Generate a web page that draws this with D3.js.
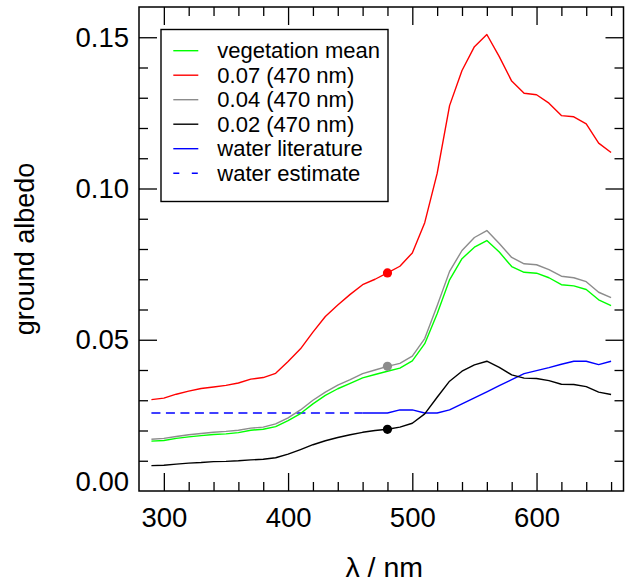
<!DOCTYPE html>
<html>
<head>
<meta charset="utf-8">
<script src="https://cdn.jsdelivr.net/npm/d3@7/dist/d3.min.js"></script>
<style>
  html, body { margin: 0; padding: 0; background: #fff; }
  svg { display: block; font-family: "Liberation Sans", Arial, Helvetica, sans-serif; }
</style>
</head>
<body>
<svg id="chart" width="632" height="585"></svg>
<script>
// Wavelength grid (nm) shared by the vegetation spectra
const wavelengths = [290,300,310,320,330,340,350,360,370,380,390,400,410,420,430,440,450,460,470,480,
                     490,500,510,520,530,540,550,560,570,580,590,600,610,620,630,640,650,660];

// Mean vegetation ground albedo
const vegetationMean = [0.0165,0.0167,0.0174,0.0179,0.0183,0.0187,0.0189,0.0193,0.0201,0.0204,0.0213,0.0233,
                        0.0256,0.0288,0.0316,0.0338,0.0356,0.0374,0.0385,0.0396,0.0406,0.0430,0.0487,0.0586,
                        0.0698,0.0768,0.0806,0.0828,0.0790,0.0742,0.0723,0.0720,0.0705,0.0682,0.0678,0.0666,
                        0.0632,0.0613];

// Vegetation spectra scaled to a given albedo at 470 nm
const albedo007 = [0.0302,0.0307,0.0320,0.0330,0.0339,0.0344,0.0349,0.0357,0.0370,0.0375,0.0389,0.0428,
                   0.0470,0.0525,0.0577,0.0615,0.0650,0.0682,0.0700,0.0721,0.0743,0.0787,0.0887,0.1050,
                   0.1274,0.1390,0.1469,0.1509,0.1436,0.1355,0.1315,0.1310,0.1282,0.1241,0.1237,0.1214,
                   0.1150,0.1119];
const albedo004 = [0.0171,0.0174,0.0180,0.0186,0.0190,0.0194,0.0197,0.0201,0.0208,0.0211,0.0222,0.0242,
                   0.0268,0.0300,0.0327,0.0350,0.0368,0.0388,0.0400,0.0412,0.0422,0.0446,0.0504,0.0612,
                   0.0726,0.0795,0.0838,0.0861,0.0818,0.0772,0.0751,0.0748,0.0732,0.0710,0.0705,0.0692,
                   0.0657,0.0639];
const albedo002 = [0.0084,0.0085,0.0089,0.0092,0.0094,0.0097,0.0098,0.0100,0.0103,0.0105,0.0110,0.0122,
                   0.0137,0.0153,0.0166,0.0177,0.0186,0.0194,0.0200,0.0204,0.0211,0.0224,0.0255,0.0310,
                   0.0363,0.0396,0.0417,0.0429,0.0409,0.0384,0.0373,0.0372,0.0365,0.0353,0.0352,0.0345,
                   0.0327,0.0319];

// Water albedo from the literature
const waterLitWavelengths = [460,470,480,490,500,510,520,530,540,550,560,570,580,590,600,610,620,630,640,650,660];
const waterLiterature = [0.0258,0.0258,0.0258,0.0268,0.0268,0.0258,0.0258,0.0268,0.0288,0.0308,0.0328,
                         0.0348,0.0368,0.0388,0.0398,0.0408,0.0419,0.0429,0.0429,0.0418,0.0429];

// Estimated (constant) water albedo in the UV/blue
const waterEstWavelengths = [290,460];
const waterEstimate = [0.0258,0.0258];

// Wavelength at which the scaled spectra are marked
const markerWavelength = 480;

// Axis ticks
const xMajorTicks = [300,400,500,600];
const xMinorTicks = [320,340,360,380,420,440,460,480,520,540,560,580,620,640,660];
const yMajorTicks = [0.00,0.05,0.10,0.15];
const yMinorTicks = [0.01,0.02,0.03,0.04,0.06,0.07,0.08,0.09,0.11,0.12,0.13,0.14];

const legendLabels = ["vegetation mean","0.07 (470 nm)","0.04 (470 nm)","0.02 (470 nm)","water literature","water estimate"];

// ---------------------------------------------------------------
const svg = d3.select("#chart");
const plotLeft = 139, plotRight = 623.5, plotTop = 7, plotBottom = 491;

const x = d3.scaleLinear().domain([280, 670]).range([plotLeft, plotRight]);
const y = d3.scaleLinear().domain([0, 0.16]).range([plotBottom, plotTop]);

const series = [
  { name: legendLabels[0], xs: wavelengths, ys: vegetationMean, color: "#00ff00", dash: null },
  { name: legendLabels[1], xs: wavelengths, ys: albedo007, color: "#ff0000", dash: null, marker: true },
  { name: legendLabels[2], xs: wavelengths, ys: albedo004, color: "#8c8c8c", dash: null, marker: true },
  { name: legendLabels[3], xs: wavelengths, ys: albedo002, color: "#000000", dash: null, marker: true },
  { name: legendLabels[4], xs: waterLitWavelengths, ys: waterLiterature, color: "#0000ff", dash: null },
  { name: legendLabels[5], xs: waterEstWavelengths, ys: waterEstimate, color: "#0000ff", dash: "9,5.5" }
];

const line = d3.line().x(d => x(d[0])).y(d => y(d[1]));

// curves
const drawOrder = [4, 5, 0, 2, 3, 1];
drawOrder.forEach(i => {
  const s = series[i];
  svg.append("path")
    .datum(s.xs.map((w, k) => [w, s.ys[k]]))
    .attr("d", line)
    .attr("fill", "none")
    .attr("stroke", s.color)
    .attr("stroke-width", 1.4)
    .attr("stroke-dasharray", s.dash)
    .attr("stroke-linejoin", "round");
});

// markers on the scaled spectra
series.filter(s => s.marker).forEach(s => {
  const k = s.xs.indexOf(markerWavelength);
  svg.append("circle")
    .attr("cx", x(markerWavelength))
    .attr("cy", y(s.ys[k]))
    .attr("r", 4.6)
    .attr("fill", s.color);
});

// inward ticks on all four sides
function ticks(axisFn, scale, values, size, transform) {
  const g = svg.append("g").attr("transform", transform)
    .call(axisFn(scale).tickValues(values).tickSize(size).tickFormat(""));
  g.select(".domain").remove();
  g.selectAll(".tick line").attr("stroke", "#000").attr("stroke-width", 1.3);
}
ticks(d3.axisBottom, x, xMajorTicks, -18, `translate(0,${plotBottom})`);
ticks(d3.axisBottom, x, xMinorTicks, -9, `translate(0,${plotBottom})`);
ticks(d3.axisTop, x, xMajorTicks, -18, `translate(0,${plotTop})`);
ticks(d3.axisTop, x, xMinorTicks, -9, `translate(0,${plotTop})`);
ticks(d3.axisLeft, y, yMajorTicks.filter(v => v > 0), -18, `translate(${plotLeft},0)`);
ticks(d3.axisLeft, y, yMinorTicks, -9, `translate(${plotLeft},0)`);
ticks(d3.axisRight, y, yMajorTicks.filter(v => v > 0), -18, `translate(${plotRight},0)`);
ticks(d3.axisRight, y, yMinorTicks, -9, `translate(${plotRight},0)`);

// tick labels
const tickFont = 27.5;
const xLab = svg.append("g").attr("transform", `translate(0,${plotBottom})`)
  .call(d3.axisBottom(x).tickValues(xMajorTicks).tickSize(0).tickPadding(16.5).tickFormat(d3.format("d")));
xLab.select(".domain").remove();
xLab.selectAll("text").attr("font-size", tickFont).attr("fill", "#000")
  .attr("font-family", "Liberation Sans, Arial, sans-serif");

const yLab = svg.append("g").attr("transform", `translate(${plotLeft},0)`)
  .call(d3.axisLeft(y).tickValues(yMajorTicks).tickSize(0).tickPadding(10).tickFormat(d3.format(".2f")));
yLab.select(".domain").remove();
yLab.selectAll("text").attr("font-size", tickFont).attr("fill", "#000")
  .attr("font-family", "Liberation Sans, Arial, sans-serif");
// the bottom label sits above the axis corner
yLab.selectAll(".tick").filter(d => d === 0).select("text").attr("dy", "-0.02em");

// frame
svg.append("rect")
  .attr("x", plotLeft).attr("y", plotTop)
  .attr("width", plotRight - plotLeft).attr("height", plotBottom - plotTop)
  .attr("fill", "none").attr("stroke", "#000").attr("stroke-width", 1.5);

// axis titles
svg.append("text")
  .attr("x", (plotLeft + plotRight) / 2 + 3).attr("y", 577)
  .attr("text-anchor", "middle").attr("font-size", 28.5).attr("fill", "#000")
  .text("λ / nm");
svg.append("text")
  .attr("transform", `translate(34,${(plotTop + plotBottom) / 2}) rotate(-90)`)
  .attr("text-anchor", "middle").attr("font-size", 27).attr("fill", "#000")
  .text("ground albedo");

// legend
const lg = svg.append("g");
lg.append("rect")
  .attr("x", 161).attr("y", 29.5).attr("width", 227).attr("height", 172)
  .attr("fill", "#fff").attr("stroke", "#000").attr("stroke-width", 1.4);
series.forEach((s, i) => {
  const cy = 50.7 + i * 24.5;
  lg.append("line")
    .attr("x1", 173.3).attr("x2", 198.3).attr("y1", cy).attr("y2", cy)
    .attr("stroke", s.color).attr("stroke-width", 1.4)
    .attr("stroke-dasharray", s.dash ? "6,12.5" : null);
  lg.append("text")
    .attr("x", 217.3).attr("y", cy).attr("dy", "0.35em")
    .attr("font-size", 22).attr("fill", "#000")
    .text(s.name);
});
</script>
</body>
</html>
